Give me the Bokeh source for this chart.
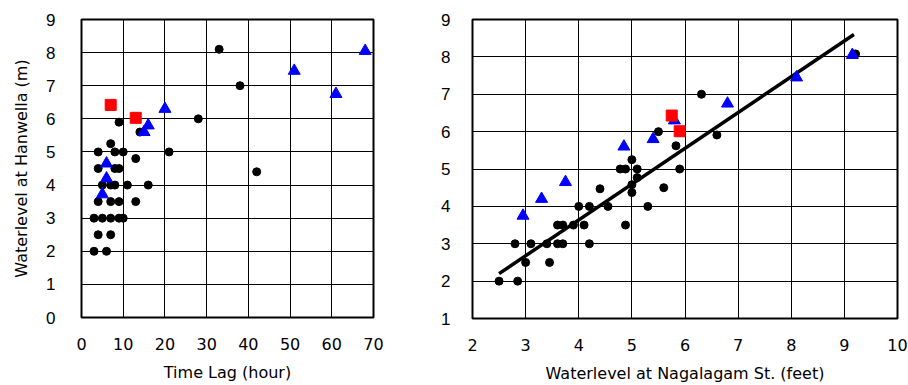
from bokeh.plotting import figure
from bokeh.layouts import row
from bokeh.models import Range1d, SingleIntervalTicker
from bokeh.embed import file_html
from bokeh.resources import INLINE

# ---- Left panel: Time Lag vs Waterlevel at Hanwella ----
lag_circle_x = [33, 38, 28, 9, 14, 7, 4, 8, 10, 21, 13, 42, 4, 8, 9,
                5, 7, 8, 11, 16, 4, 7, 9, 13, 3, 5, 7, 9, 10, 4, 7, 3, 6]
lag_circle_y = [8.1, 7.0, 6.0, 5.9, 5.6, 5.25, 5.0, 5.0, 5.0, 5.0, 4.8, 4.4, 4.5, 4.5, 4.5,
                4.0, 4.0, 4.0, 4.0, 4.0, 3.5, 3.5, 3.5, 3.5, 3.0, 3.0, 3.0, 3.0, 3.0, 2.5, 2.5, 2.0, 2.0]
lag_tri_x = [68, 51, 61, 20, 16, 15, 6, 6, 5]
lag_tri_y = [8.05, 7.45, 6.75, 6.3, 5.8, 5.6, 4.65, 4.2, 3.72]
lag_sq_x = [7, 13]
lag_sq_y = [6.42, 6.03]

# ---- Right panel: Waterlevel at Nagalagam St. vs Hanwella ----
nag_circle_x = [9.21, 6.31, 5.5, 6.6, 5.83, 5.0, 4.78, 4.88, 5.1, 5.9, 5.1, 4.4, 5.0, 5.0, 5.6,
                4.0, 4.2, 4.55, 5.3, 3.6, 3.7, 3.9, 4.1, 4.88, 2.8, 3.1, 3.4, 3.6, 3.7, 4.2,
                3.0, 3.45, 2.5, 2.85]
nag_circle_y = [8.08, 7.0, 6.0, 5.91, 5.62, 5.25, 5.0, 5.0, 5.0, 5.0, 4.77, 4.47, 4.58, 4.37, 4.5,
                4.0, 4.0, 4.0, 4.0, 3.5, 3.5, 3.5, 3.5, 3.5, 3.0, 3.0, 3.0, 3.0, 3.0, 3.0,
                2.5, 2.5, 2.0, 2.0]
nag_tri_x = [9.15, 8.1, 6.8, 5.8, 5.4, 4.85, 3.75, 3.3, 2.95]
nag_tri_y = [8.05, 7.45, 6.75, 6.3, 5.8, 5.6, 4.65, 4.2, 3.75]
nag_sq_x = [5.75, 5.9]
nag_sq_y = [6.43, 6.01]
fit_x = [2.5, 9.18]
fit_y = [2.2, 8.6]

TICK_FONT = "Liberation Sans"
LABEL_FONT = "DejaVu Sans"


def style(p, xstep, ystep, ylab_standoff):
    p.outline_line_color = "black"
    p.outline_line_width = 2
    p.outline_line_alpha = 1
    p.xaxis.ticker = SingleIntervalTicker(interval=xstep)
    p.yaxis.ticker = SingleIntervalTicker(interval=ystep)
    for ax in (p.xaxis[0], p.yaxis[0]):
        ax.axis_line_color = None
        ax.major_tick_line_color = None
        ax.minor_tick_line_color = None
        ax.major_tick_in = 0
        ax.major_tick_out = 0
        ax.minor_tick_in = 0
        ax.minor_tick_out = 0
        ax.major_label_text_color = "black"
        ax.axis_label_text_color = "black"
        ax.axis_label_text_font_style = "normal"
        ax.axis_label_text_font = LABEL_FONT
        ax.axis_label_text_font_size = "16px"
    p.xaxis.major_label_text_font = LABEL_FONT
    p.xaxis.major_label_text_font_size = "16px"
    p.xaxis.major_label_standoff = 20
    p.xaxis.axis_label_standoff = 10
    p.yaxis.major_label_text_font = TICK_FONT
    p.yaxis.major_label_text_font_size = "17px"
    p.yaxis.major_label_standoff = ylab_standoff
    p.yaxis.axis_label_standoff = 12
    p.xgrid.grid_line_color = "black"
    p.ygrid.grid_line_color = "black"
    p.xgrid.grid_line_width = 1
    p.ygrid.grid_line_width = 1
    p.xgrid.grid_line_alpha = 1
    p.ygrid.grid_line_alpha = 1
    p.background_fill_color = "white"
    p.border_fill_color = "white"


p1 = figure(frame_width=292, frame_height=298, output_backend="svg", toolbar_location=None,
            x_range=Range1d(0, 70), y_range=Range1d(0, 9),
            min_border_left=81, min_border_right=47, min_border_top=19, min_border_bottom=68,
            x_axis_label="Time Lag (hour)", y_axis_label="Waterlevel at Hanwella (m)")
style(p1, 10, 1, 26)
p1.scatter(lag_circle_x, lag_circle_y, marker="circle", size=8, fill_color="black", line_color="black")
p1.scatter(lag_tri_x, lag_tri_y, marker="triangle", size=12, fill_color="#0000FF", line_color="#0000FF")
p1.scatter(lag_sq_x, lag_sq_y, marker="square", size=11, fill_color="#FF0000", line_color="#FF0000")

p2 = figure(frame_width=425, frame_height=299, output_backend="svg", toolbar_location=None,
            x_range=Range1d(2, 10), y_range=Range1d(1, 9),
            min_border_left=52, min_border_right=11, min_border_top=17, min_border_bottom=69,
            x_axis_label="Waterlevel at Nagalagam St. (feet)")
style(p2, 1, 1, 22)
p2.line(fit_x, fit_y, line_color="black", line_width=3.5)
p2.scatter(nag_circle_x, nag_circle_y, marker="circle", size=8, fill_color="black", line_color="black")
p2.scatter(nag_tri_x, nag_tri_y, marker="triangle", size=12, fill_color="#0000FF", line_color="#0000FF")
p2.scatter(nag_sq_x, nag_sq_y, marker="square", size=11, fill_color="#FF0000", line_color="#FF0000")

layout = row(p1, p2, spacing=0)
open("out.html", "w").write(file_html(layout, INLINE))
